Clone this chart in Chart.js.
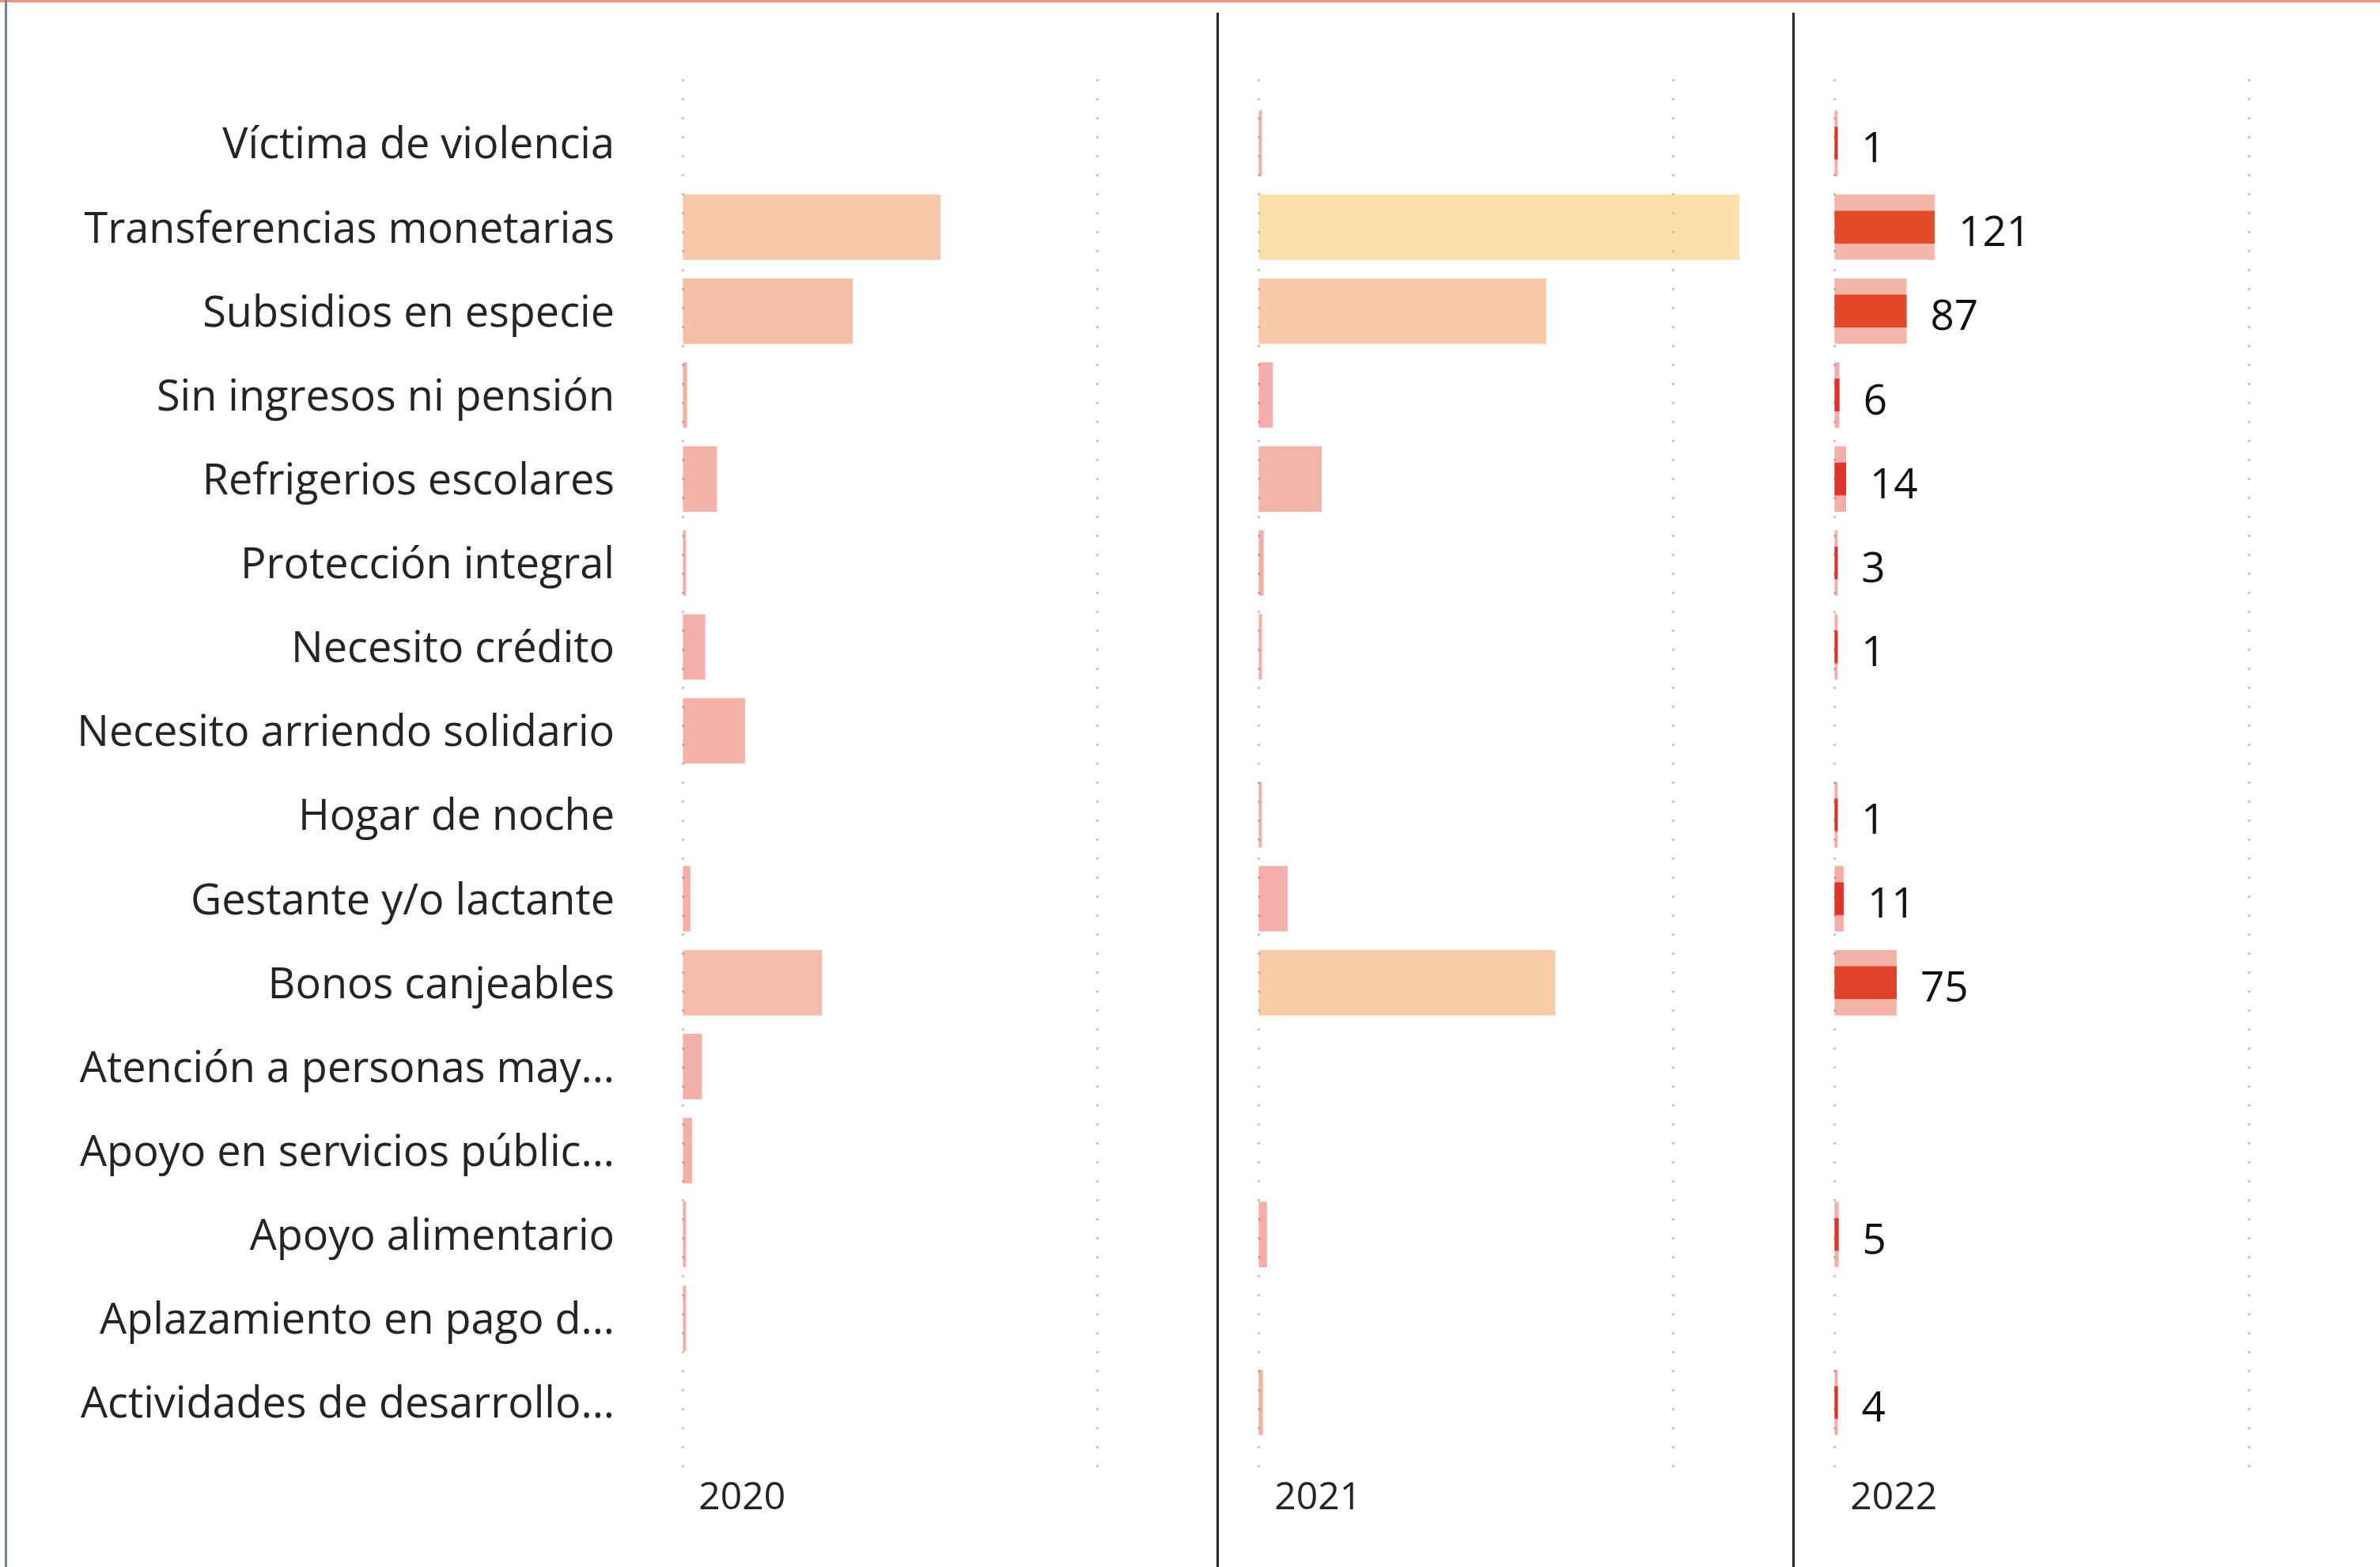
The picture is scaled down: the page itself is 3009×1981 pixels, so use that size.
<!DOCTYPE html>
<html><head><meta charset="utf-8">
<script src="https://cdn.jsdelivr.net/npm/chart.js@4.4.1/dist/chart.umd.min.js"></script>
<style>
html,body{margin:0;padding:0;background:#fff;}
#wrap{position:relative;width:3009px;height:1981px;}
</style></head><body>
<div id="wrap"><canvas id="c"></canvas></div>
<script>
const categories = [
  'Víctima de violencia',
  'Transferencias monetarias',
  'Subsidios en especie',
  'Sin ingresos ni pensión',
  'Refrigerios escolares',
  'Protección integral',
  'Necesito crédito',
  'Necesito arriendo solidario',
  'Hogar de noche',
  'Gestante y/o lactante',
  'Bonos canjeables',
  'Atención a personas may...',
  'Apoyo en servicios públic...',
  'Apoyo alimentario',
  'Aplazamiento en pago d...',
  'Actividades de desarrollo...'
];
const years = ['2020', '2021', '2022'];
const values2020 = [null, 311, 205, 5, 41, 2, 27, 75, null, 9, 168, 23, 11, 2, 2, null];
const values2021 = [2, 580, 347, 17, 76, 6, 4, null, 2, 35, 358, null, null, 10, null, 5];
const values2022 = [1, 121, 87, 6, 14, 3, 1, null, 1, 11, 75, null, null, 5, null, 4];
const gridTicks = [0, 500];
const axisMin = -50;
const axisMax = 645;

const FONT = '"Open Sans", "Noto Sans", sans-serif';
const LOW = [224, 50, 42];
const HIGH = [242, 177, 37];
const MAXV = Math.max(...[...values2020, ...values2021, ...values2022].filter(v => v != null));
function colorFor(v, alpha) {
  if (v == null) return 'rgba(0,0,0,0)';
  const t = Math.max(0, Math.min(1, v / MAXV));
  const c = LOW.map((l, i) => Math.round(l + (HIGH[i] - l) * t));
  return `rgba(${c[0]},${c[1]},${c[2]},${alpha})`;
}
const axisIds = ['x0', 'x1', 'x2'];

const panelPlugin = {
  id: 'panels',
  beforeDraw(chart) {
    const ctx = chart.ctx;
    const {top, bottom} = chart.chartArea;
    ctx.save();
    ctx.fillStyle = '#F2907F';
    ctx.fillRect(0, 0, chart.width, 3);
    ctx.fillStyle = '#71819F';
    ctx.fillRect(6, 0, 3, chart.height);
    ctx.fillStyle = '#252423';
    axisIds.slice(1).forEach(id => {
      const s = chart.scales[id];
      ctx.fillRect(Math.round(s.left) - 1, 16, 3, chart.height - 16);
    });
    ctx.strokeStyle = '#C6C6C6';
    ctx.lineWidth = 3;
    ctx.setLineDash([3, 21]);
    axisIds.forEach(id => {
      const s = chart.scales[id];
      s.ticks.forEach(t => {
        const x = Math.round(s.getPixelForValue(t.value)) + 0.5;
        ctx.beginPath();
        ctx.moveTo(x, top - 28);
        ctx.lineTo(x, bottom + 32);
        ctx.stroke();
      });
    });
    ctx.setLineDash([]);
    ctx.fillStyle = '#252423';
    ctx.font = '48px ' + FONT;
    ctx.textAlign = 'left';
    ctx.textBaseline = 'middle';
    axisIds.forEach((id, i) => {
      const s = chart.scales[id];
      ctx.fillText(years[i], s.getPixelForValue(0) + 20, bottom + 68);
    });
    ctx.restore();
  },
  afterDatasetsDraw(chart) {
    const ctx = chart.ctx;
    const meta = chart.getDatasetMeta(0);
    ctx.save();
    ctx.fillStyle = '#111111';
    ctx.font = '53px ' + FONT;
    ctx.textAlign = 'left';
    ctx.textBaseline = 'middle';
    meta.data.forEach((el, i) => {
      const v = values2022[i];
      if (v == null) return;
      ctx.fillText(String(v), el.x + 30, el.y + 9);
    });
    ctx.restore();
  }
};

function xAxis() {
  return {
    type: 'linear', position: 'bottom', stack: 'years', stackWeight: 1,
    min: axisMin, max: axisMax, offset: false,
    grid: {display: false, drawTicks: false},
    border: {display: false},
    ticks: {display: false},
    afterBuildTicks(s) { s.ticks = gridTicks.map(v => ({value: v})); }
  };
}
const barCommon = {categoryPercentage: 1, grouped: false, minBarLength: 4, borderWidth: 0};

function make() {
  new Chart(document.getElementById('c'), {
    type: 'bar',
    data: {
      labels: categories,
      datasets: [
        Object.assign({label: '2022', data: values2022, xAxisID: 'x2', yAxisID: 'y', order: 0, barPercentage: 0.39,
          backgroundColor: c => colorFor(c.raw, 1)}, barCommon),
        Object.assign({label: '2022', data: values2022, xAxisID: 'x2', yAxisID: 'y', order: 1, barPercentage: 0.78,
          backgroundColor: c => colorFor(c.raw, 0.4)}, barCommon),
        Object.assign({label: '2021', data: values2021, xAxisID: 'x1', yAxisID: 'y', order: 1, barPercentage: 0.78,
          backgroundColor: c => colorFor(c.raw, 0.4)}, barCommon),
        Object.assign({label: '2020', data: values2020, xAxisID: 'x0', yAxisID: 'y', order: 1, barPercentage: 0.78,
          backgroundColor: c => colorFor(c.raw, 0.4)}, barCommon)
      ]
    },
    options: {
      indexAxis: 'y',
      responsive: true,
      maintainAspectRatio: false,
      animation: false,
      devicePixelRatio: 1,
      layout: {padding: {left: 0, right: 14, top: 128, bottom: 155}},
      plugins: {legend: {display: false}, tooltip: {enabled: false}},
      scales: {
        y: {
          type: 'category', position: 'left', offset: true,
          grid: {display: false, drawTicks: false},
          border: {display: false},
          ticks: {color: '#252423', font: {family: FONT, size: 54}, padding: 34, autoSkip: false, labelOffset: 4},
          afterFit(s) { s.width = 811; }
        },
        x0: xAxis(),
        x1: xAxis(),
        x2: xAxis()
      }
    },
    plugins: [panelPlugin]
  });
}
if (document.fonts && document.fonts.load) {
  Promise.all([document.fonts.load('54px "Open Sans"')]).then(make, make);
} else { make(); }
</script>
</body></html>
